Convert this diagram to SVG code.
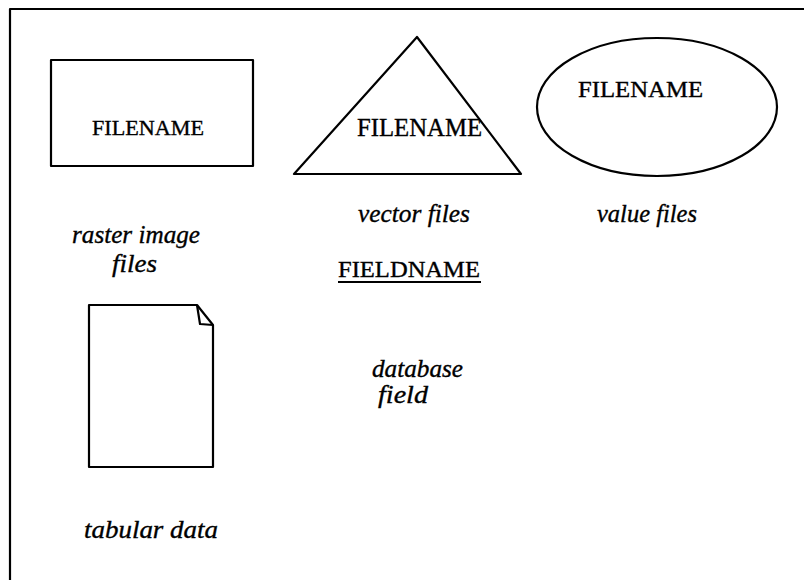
<svg xmlns="http://www.w3.org/2000/svg" width="804" height="580" viewBox="0 0 804 580">
  <style>
    .shape { fill: none; stroke: #000; stroke-width: 2.2; stroke-linejoin: round; }
    .name { font-family: "Liberation Serif", "Times New Roman", serif; fill: #000; stroke: #000; stroke-width: 0.35; }
    .label { font-family: "Liberation Serif", "Times New Roman", serif; font-style: italic; fill: #000; stroke: #000; stroke-width: 0.35; font-size: 25px; }
  </style>
  <rect width="804" height="580" fill="#fff"/>
  <!-- outer frame, open to the right and bottom -->
  <path class="shape" d="M10,590 V9 H810"/>

  <g id="raster">
    <rect class="shape" x="51" y="60" width="202" height="106"/>
    <text class="name" x="92" y="135" font-size="22" textLength="112" lengthAdjust="spacingAndGlyphs">FILENAME</text>
    <text class="label" x="72" y="243" textLength="128" lengthAdjust="spacingAndGlyphs">raster image</text>
    <text class="label" x="112" y="272" textLength="45" lengthAdjust="spacingAndGlyphs">files</text>
  </g>

  <g id="vector">
    <polygon class="shape" points="417,37 294,174 521,174"/>
    <text class="name" x="357" y="136" font-size="25" textLength="125" lengthAdjust="spacingAndGlyphs">FILENAME</text>
    <text class="label" x="358" y="222" textLength="112" lengthAdjust="spacingAndGlyphs">vector files</text>
  </g>

  <g id="value">
    <ellipse class="shape" cx="657" cy="107" rx="120" ry="69"/>
    <text class="name" x="578" y="97" font-size="23" textLength="125" lengthAdjust="spacingAndGlyphs">FILENAME</text>
    <text class="label" x="597" y="222" textLength="100" lengthAdjust="spacingAndGlyphs">value files</text>
  </g>

  <g id="field">
    <text class="name" x="338" y="277" font-size="23" textLength="142" lengthAdjust="spacingAndGlyphs">FIELDNAME</text>
    <line x1="338" y1="282" x2="481" y2="282" stroke="#000" stroke-width="1.8"/>
    <text class="label" x="372" y="377" textLength="91" lengthAdjust="spacingAndGlyphs">database</text>
    <text class="label" x="378" y="403" textLength="50" lengthAdjust="spacingAndGlyphs">field</text>
  </g>

  <g id="tabular">
    <path class="shape" d="M89,305 H197 L213,325 V467 H89 Z"/>
    <path class="shape" d="M197,305 L200,324 L213,325"/>
    <text class="label" x="84" y="538" textLength="134" lengthAdjust="spacingAndGlyphs">tabular data</text>
  </g>
</svg>
